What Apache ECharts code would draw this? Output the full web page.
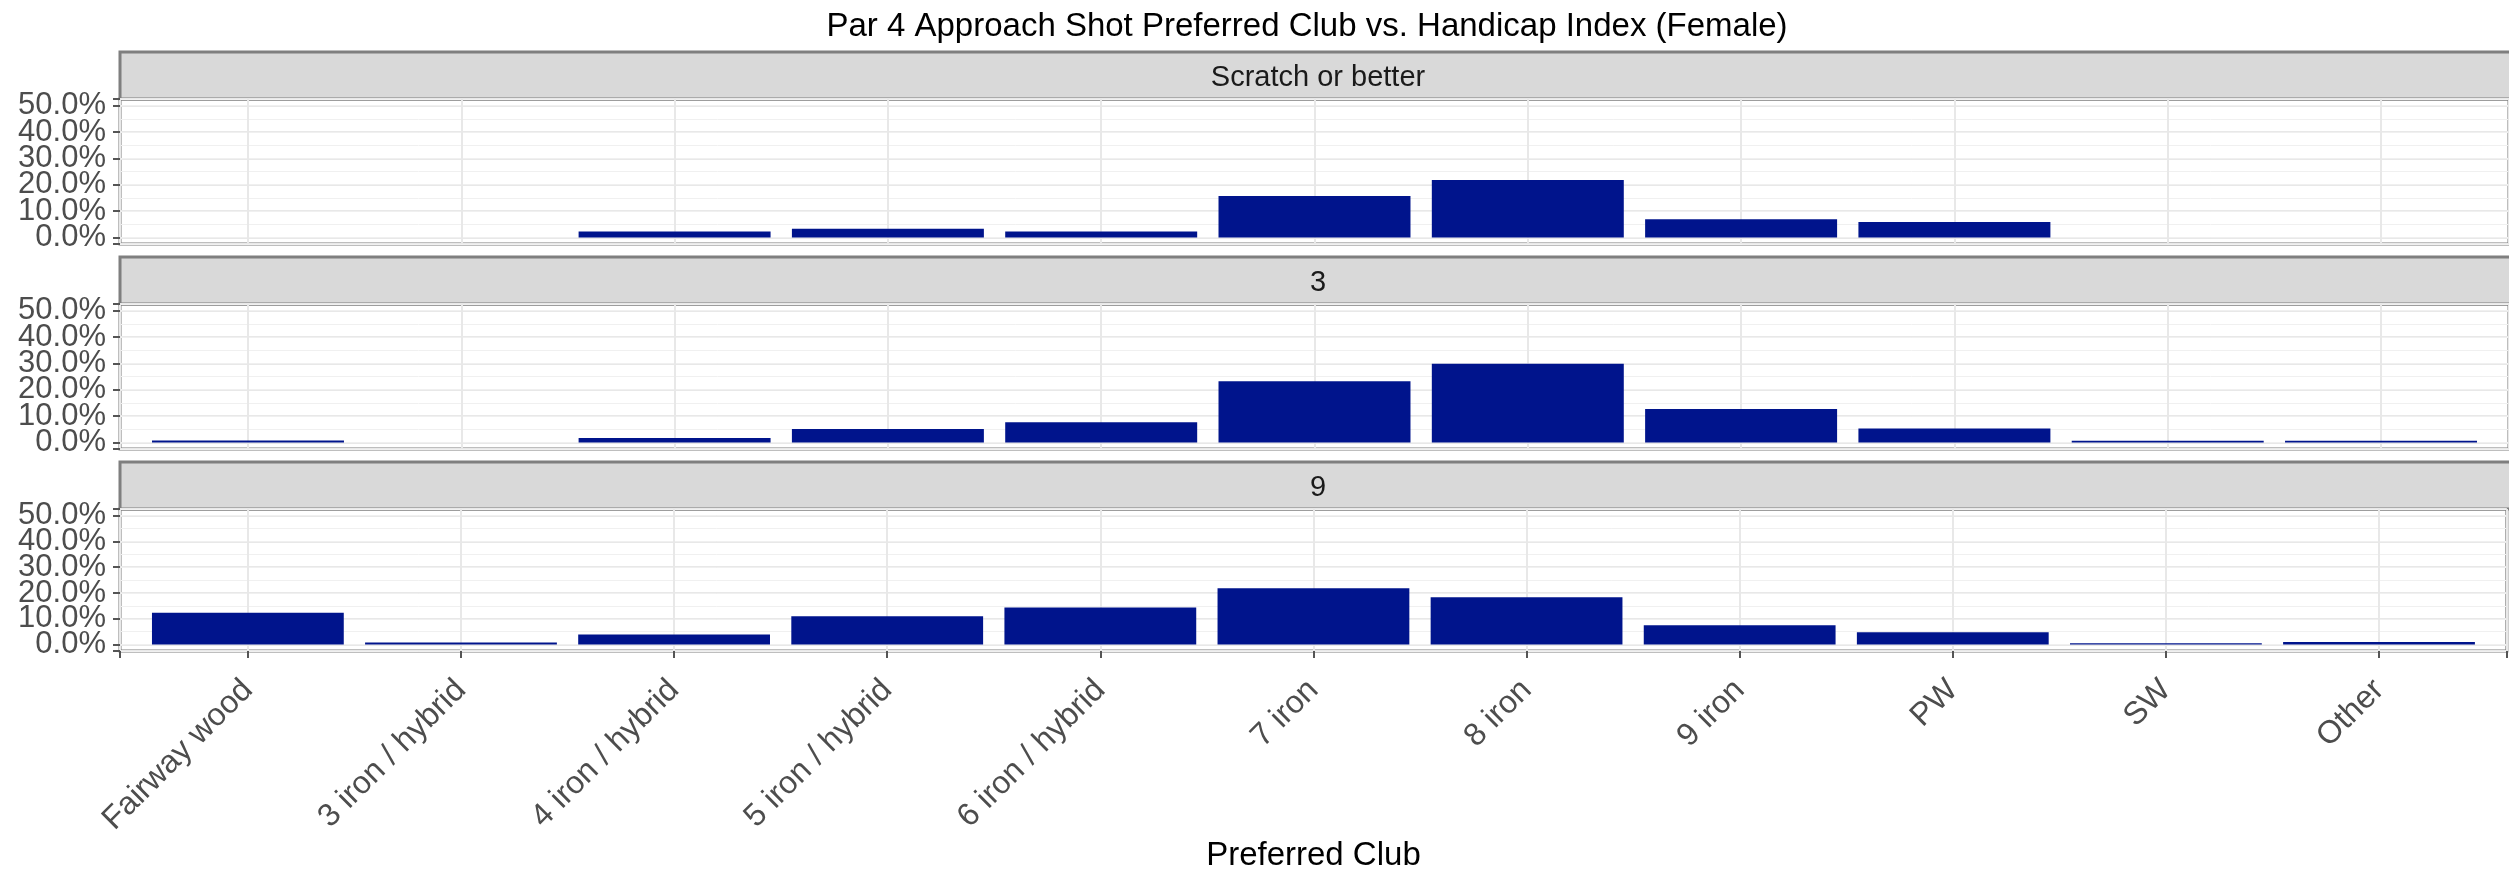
<!DOCTYPE html>
<html>
<head>
<meta charset="utf-8">
<script src="https://cdn.jsdelivr.net/npm/echarts@6/dist/echarts.min.js"></script>
<style>
  html, body { margin: 0; padding: 0; background: #fff; }
  #chart { width: 2509px; height: 873px; }
</style>
</head>
<body>
<div id="chart"></div>
<script>
// clubs on the x axis
const clubs = ['Fairway wood', '3 iron / hybrid', '4 iron / hybrid', '5 iron / hybrid', '6 iron / hybrid',
  '7 iron', '8 iron', '9 iron', 'PW', 'SW', 'Other'];
// facet panels (handicap index)
const panels = ['Scratch or better', '3', '9'];
// percent of players per club, one array per panel
const scratchPct = [0, 0, 2.2, 3.3, 2.2, 15.7, 21.8, 6.9, 5.8, 0, 0];
const hcp3Pct = [0.7, 0, 1.7, 5.1, 7.6, 23.2, 29.8, 12.7, 5.3, 0.6, 0.6];
const hcp9Pct = [12.3, 0.8, 3.9, 11.0, 14.4, 21.8, 18.3, 7.5, 4.8, 0.5, 1.0];
const panelValues = [scratchPct, hcp3Pct, hcp9Pct];
// y ticks (percent)
const yTicks = [0, 10, 20, 30, 40, 50];
const yMinorStep = 5;

const font = '"Liberation Sans", Arial, Helvetica, sans-serif';
const barColor = '#00148c';
const borderColor = '#7f7f7f';
const gridColor = '#e8e8e8';

const panelLeft = 120, panelWidth = 2400, panelTop = 99, panelH = 145, panelStep = 205, stripH = 47;
const yMajorStep = yTicks[1] - yTicks[0];

let grids = [], xAxes = [], yAxes = [], series = [], graphics = [];

panels.forEach((name, i) => {
  const top = panelTop + panelStep * i;
  const last = i === panels.length - 1;
  grids.push({
    left: panelLeft, top: top, width: panelWidth, height: panelH,
    show: true, borderColor: borderColor, borderWidth: 3, backgroundColor: 'transparent'
  });
  xAxes.push({
    type: 'value', gridIndex: i, min: -0.6, max: clubs.length - 0.4,
    minInterval: 1, maxInterval: 1,
    axisLine: { show: false, onZero: false },
    axisTick: { show: last, length: 7, lineStyle: { color: '#555', width: 2 } },
    axisLabel: {
      show: last, rotate: 45, margin: 34, fontSize: 32, color: '#4d4d4d', fontFamily: font,
      showMinLabel: true, showMaxLabel: true, hideOverlap: false,
      formatter: v => Number.isInteger(v) && clubs[v] !== undefined ? clubs[v] : ''
    },
    splitLine: { show: true, lineStyle: { color: gridColor, width: 2 } },
    name: last ? 'Preferred Club' : '',
    nameLocation: 'middle', nameGap: 184,
    nameTextStyle: { fontSize: 33, color: '#000', fontFamily: font }
  });
  // major y axis
  yAxes.push({
    type: 'value', gridIndex: i, min: -2.5, max: 52.5,
    minInterval: yMajorStep, maxInterval: yMajorStep,
    axisLine: { show: false, onZero: false },
    axisTick: { show: true, length: 7, lineStyle: { color: '#555', width: 2 } },
    axisLabel: {
      margin: 14, fontSize: 31, color: '#4d4d4d', fontFamily: font,
      showMinLabel: true, showMaxLabel: true, hideOverlap: false,
      formatter: v => yTicks.indexOf(Math.round(v * 1000) / 1000) >= 0 ? v.toFixed(1) + '%' : ''
    },
    splitLine: { show: true, lineStyle: { color: gridColor, width: 2 } }
  });
  // minor y grid
  yAxes.push({
    type: 'value', gridIndex: i, min: -2.5, max: 52.5,
    minInterval: yMinorStep, maxInterval: yMinorStep,
    position: 'left',
    axisLine: { show: false, onZero: false }, axisTick: { show: false }, axisLabel: { show: false },
    splitLine: { show: true, lineStyle: { color: '#f0f0f0', width: 1 } }
  });
  series.push({
    type: 'bar', xAxisIndex: i, yAxisIndex: 2 * i,
    barWidth: '90%',
    itemStyle: { color: barColor },
    data: panelValues[i].map((v, k) => [k, v]),
    z: 3
  });
  // facet strip
  graphics.push({
    type: 'rect', shape: { x: panelLeft, y: top - stripH, width: panelWidth, height: stripH },
    style: { fill: '#d9d9d9', stroke: borderColor, lineWidth: 3 }
  });
  graphics.push({
    type: 'text', x: panelLeft + panelWidth / 2 - 2, y: top - stripH / 2 + 2,
    style: { text: name, fontSize: 29, fill: '#1a1a1a', fontFamily: font, textAlign: 'center', textVerticalAlign: 'middle' }
  });
});

graphics.push({
  type: 'text', x: 1307, y: 27,
  style: { text: 'Par 4 Approach Shot Preferred Club vs. Handicap Index (Female)', fontSize: 33, fill: '#000',
    fontFamily: font, textAlign: 'center', textVerticalAlign: 'middle' }
});

const chart = echarts.init(document.getElementById('chart'));
chart.setOption({
  animation: false,
  grid: grids,
  xAxis: xAxes,
  yAxis: yAxes,
  series: series,
  graphic: graphics
});
</script>
</body>
</html>
